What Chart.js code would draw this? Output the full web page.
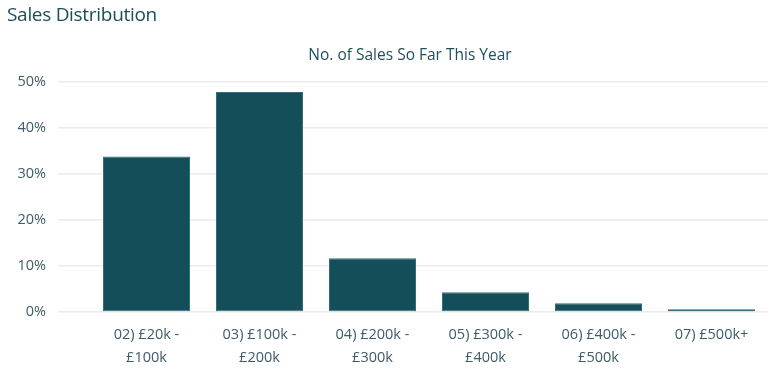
<!DOCTYPE html>
<html lang="en">
<head>
  <meta charset="UTF-8">
  <title>Sales Distribution</title>
  <script src="https://cdn.jsdelivr.net/npm/chart.js"></script>
  <style>
    body { margin: 0; background: #fff; font-family: "Open Sans", sans-serif; }
    #wrap { position: relative; width: 778px; height: 377px; }
    #title { position: absolute; left: 7px; top: 1px; font-size: 19px; color: #1a4e5b; letter-spacing: -0.3px; }
    #subtitle { position: absolute; left: 210px; width: 400px; top: 43px; text-align: center; font-size: 15.5px; color: #1f4f5c; }
    canvas { position: absolute; left: 0; top: 0; }
  </style>
</head>
<body>
  <div id="wrap">
    <canvas id="salesChart" width="778" height="377"></canvas>
    <div id="title">Sales Distribution</div>
    <div id="subtitle">No. of Sales So Far This Year</div>
  </div>
  <script>
    // price bands and share of sales (%)
    const bands = [
      ['02) £20k -', '£100k'],
      ['03) £100k -', '£200k'],
      ['04) £200k -', '£300k'],
      ['05) £300k -', '£400k'],
      ['06) £400k -', '£500k'],
      '07) £500k+'
    ];
    const salesShare = [33.8, 47.8, 11.7, 4.3, 1.9, 0.6];
    const yTicks = [0, 10, 20, 30, 40, 50];

    const tickColor = '#3d5c66';
    const ctx = document.getElementById('salesChart').getContext('2d');
    new Chart(ctx, {
      type: 'bar',
      data: {
        labels: bands,
        datasets: [{
          label: 'No. of Sales',
          data: salesShare,
          backgroundColor: '#134e59',
          borderColor: '#336e7a',
          borderWidth: 1,
          borderSkipped: false,
          barPercentage: 0.77,
          categoryPercentage: 1
        }]
      },
      options: {
        responsive: false,
        animation: false,
        layout: { padding: { left: 15, right: 10, top: 82, bottom: 0 } },
        plugins: {
          legend: { display: false },
          tooltip: { enabled: false }
        },
        scales: {
          x: {
            grid: { display: false },
            border: { display: false },
            afterFit: scale => { scale.height = 65; },
            ticks: {
              color: tickColor,
              font: { family: 'Open Sans', size: 14.5, lineHeight: 1.62 },
              padding: 3,
              maxRotation: 0
            }
          },
          y: {
            min: 0,
            max: 50,
            afterBuildTicks: scale => { scale.ticks = yTicks.map(v => ({ value: v })); },
            afterFit: scale => { scale.width = 75; },
            grid: { color: '#ebebeb', lineWidth: 1.5, tickLength: 32, tickColor: '#ebebeb' },
            border: { display: false },
            ticks: {
              color: tickColor,
              font: { family: 'Open Sans', size: 14.5 },
              padding: 12,
              callback: v => v + '%'
            }
          }
        }
      }
    });
  </script>
</body>
</html>
